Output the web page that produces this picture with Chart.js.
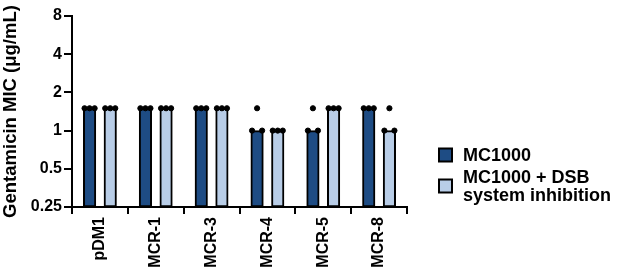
<!DOCTYPE html>
<html>
<head>
<meta charset="utf-8">
<script src="https://cdn.jsdelivr.net/npm/chart.js@4"></script>
<style>
  html, body { margin: 0; padding: 0; background: #fff; }
  #wrap { width: 617px; height: 275px; }
</style>
</head>
<body>
<div id="wrap"><canvas id="mic"></canvas></div>
<script>
const strains = ['pDM1', 'MCR-1', 'MCR-3', 'MCR-4', 'MCR-5', 'MCR-8'];
const yTicks = [0.25, 0.5, 1, 2, 4, 8];

// bar heights (median MIC, ug/mL)
const mc1000 = [1.5, 1.5, 1.5, 1, 1, 1.5];
const mc1000Dsb = [1.5, 1.5, 1.5, 1, 1.5, 1];

// replicate values shown as dots (left, middle, right of each bar)
const mc1000Reps = [[1.5, 1.5, 1.5], [1.5, 1.5, 1.5], [1.5, 1.5, 1.5], [1, 1.5, 1], [1, 1.5, 1], [1.5, 1.5, 1.5]];
const mc1000DsbReps = [[1.5, 1.5, 1.5], [1.5, 1.5, 1.5], [1.5, 1.5, 1.5], [1, 1, 1], [1.5, 1.5, 1.5], [1, 1.5, 1]];

const darkBlue = '#1e4c84';
const lightBlue = '#b8cde7';
const FONT = 'Liberation Sans, Arial, sans-serif';

const shift = 0.185;   // half distance between the two bars of a group, in category units

function bars(vals, side) {
  return vals.map((v, i) => ({ x: i + side * shift, y: v }));
}

// spread replicate dots across the top of each bar
function dots(reps, side) {
  const pts = [];
  reps.forEach((vals, i) => {
    vals.forEach((v, k) => {
      pts.push({ x: i + side * shift + (k - 1) * 0.09, y: v });
    });
  });
  return pts;
}

const legendPlugin = {
  id: 'sideLegend',
  afterDraw(chart) {
    const ctx = chart.ctx;
    const x0 = chart.chartArea.right + 32;
    const items = [
      { color: darkBlue, lines: ['MC1000'], cy: 155 },
      { color: lightBlue, lines: ['MC1000 + DSB', 'system inhibition'], cy: 186 }
    ];
    ctx.save();
    ctx.font = 'bold 18px ' + FONT;
    ctx.textBaseline = 'middle';
    items.forEach(it => {
      ctx.fillStyle = it.color;
      ctx.fillRect(x0, it.cy - 6.5, 13, 13);
      ctx.strokeStyle = '#000';
      ctx.lineWidth = 2;
      ctx.strokeRect(x0, it.cy - 6.5, 13, 13);
      ctx.fillStyle = '#000';
      const lh = 18;
      const top = it.cy - (it.lines.length - 1) * lh / 2;
      it.lines.forEach((t, j) => ctx.fillText(t, x0 + 24, top + j * lh + 1));
    });
    ctx.restore();
  }
};

new Chart(document.getElementById('mic'), {
  type: 'scatter',
  data: {
    datasets: [
      {
        label: 'MC1000 reps', data: dots(mc1000Reps, -1),
        backgroundColor: '#000', borderColor: '#000', pointRadius: 2.6, order: 0
      },
      {
        label: 'DSB reps', data: dots(mc1000DsbReps, 1),
        backgroundColor: '#000', borderColor: '#000', pointRadius: 2.6, order: 0
      },
      {
        type: 'bar', label: 'MC1000', data: bars(mc1000, -1), backgroundColor: darkBlue, borderColor: '#000',
        borderWidth: 2, borderSkipped: false, grouped: false, barThickness: 12.5, order: 1
      },
      {
        type: 'bar', label: 'MC1000 + DSB system inhibition', data: bars(mc1000Dsb, 1), backgroundColor: lightBlue,
        borderColor: '#000', borderWidth: 2, borderSkipped: false, grouped: false, barThickness: 12.5, order: 1
      }
    ]
  },
  options: {
    responsive: true,
    maintainAspectRatio: false,
    animation: false,
    layout: { padding: { top: 16, right: 210, left: 0, bottom: 0 } },
    plugins: { legend: { display: false }, tooltip: { enabled: false } },
    scales: {
      x: {
        type: 'linear',
        min: -0.5,
        max: 5.5,
        offset: false,
        afterBuildTicks(scale) { scale.ticks = strains.map((s, i) => ({ value: i })); },
        grid: { drawOnChartArea: false, drawTicks: true, tickLength: 7, color: '#000', lineWidth: 2 },
        border: { display: true, color: '#000', width: 2 },
        ticks: {
          color: '#000', minRotation: 90, maxRotation: 90, padding: 3, autoSkip: false,
          font: { family: FONT, size: 16, weight: 'bold' },
          callback: v => strains[v]
        },
        afterFit(scale) { scale.height = 68; }
      },
      y: {
        type: 'logarithmic',
        min: 0.25,
        max: 8,
        afterBuildTicks(scale) { scale.ticks = yTicks.map(v => ({ value: v })); },
        grid: { drawOnChartArea: false, drawTicks: true, tickLength: 8, color: '#000', lineWidth: 2 },
        border: { display: true, color: '#000', width: 2 },
        ticks: {
          color: '#000', padding: 2,
          font: { family: FONT, size: 16, weight: 'bold' },
          callback: v => String(v)
        },
        title: {
          display: true, text: 'Gentamicin MIC (μg/mL)', color: '#000', padding: { top: 0, bottom: 3 },
          font: { family: FONT, size: 18.5, weight: 'bold' }
        },
        afterFit(scale) { scale.width = 72; }
      }
    }
  },
  plugins: [legendPlugin]
});
</script>
</body>
</html>
